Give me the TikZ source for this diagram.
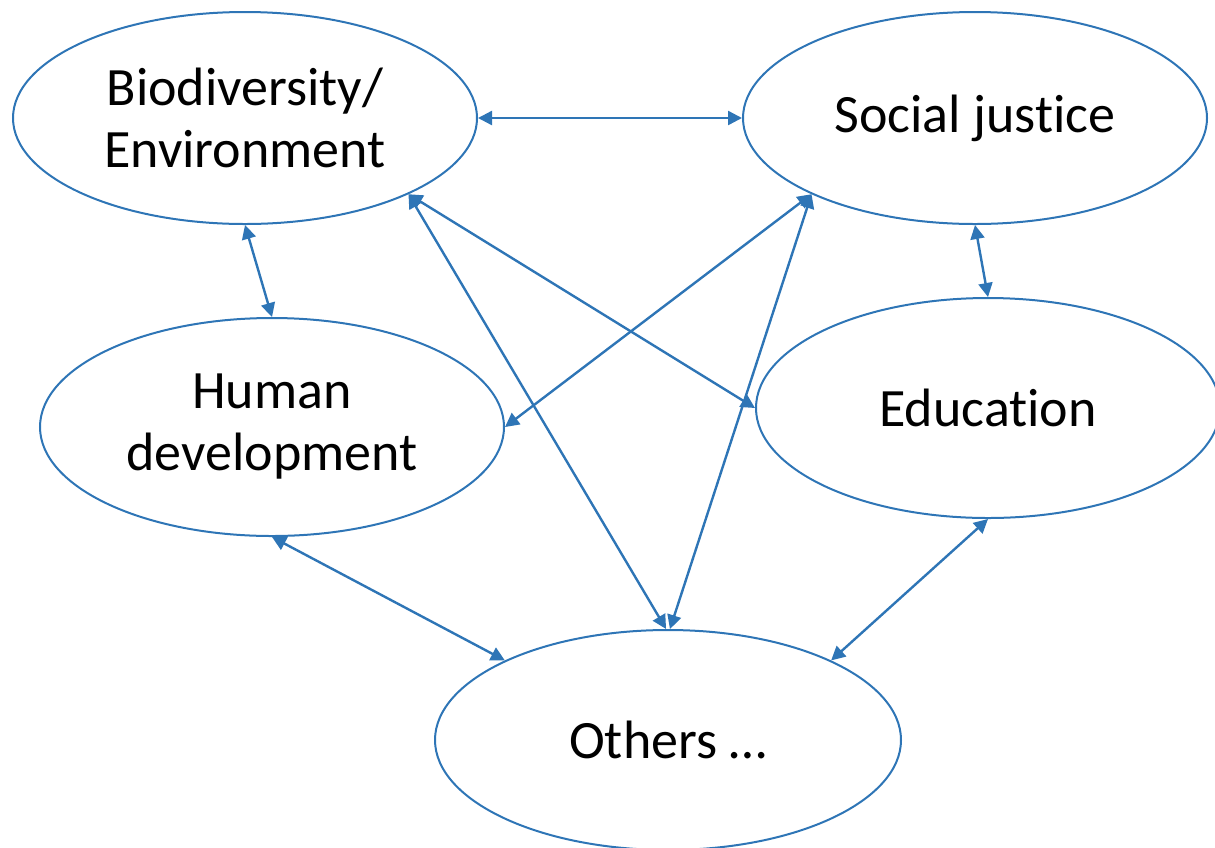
\documentclass[tikz,border=0pt]{standalone}
\usepackage{fontspec}
\setmainfont{Carlito}[Ligatures=NoCommon]
\usetikzlibrary{shapes.geometric,arrows.meta}
\definecolor{lineblue}{HTML}{2E75B6}
\tikzset{
  topic/.style={draw=lineblue, line width=1pt, ellipse, inner sep=0pt,
    minimum width=232pt, minimum height=106pt, align=center,
    font=\fontsize{27}{31}\selectfont},
  link/.style={lineblue, line width=1.2pt,
    {Triangle[length=7pt,width=7pt]}-{Triangle[length=7pt,width=7pt]}}
}
\begin{document}
\begin{tikzpicture}[x=0.5pt,y=-0.5pt]
  \useasboundingbox (0,0) rectangle (1215,847);
  \node[topic] (bio) at (245,118) {Biodiversity/\\Environment};
  \node[topic] (soc) at (975,118) {Social justice};
  \node[topic, minimum height=109pt] (hum) at (272,427) {Human\\development};
  \node[topic, minimum height=110pt] (edu) at (988,408) {Education};
  \node[topic, minimum width=233pt, minimum height=110pt] (oth) at (668,740) {Others \dots};
  % links
  \draw[link] (bio.east) -- (soc.west);
  \draw[link] (bio.south) -- (hum.north);
  \draw[link] (soc.south) -- (edu.north);
  \draw[link] (bio.-25) -- (edu.180);
  \draw[link] (bio.-25) -- (oth.91);
  \draw[link] (soc.-155) -- (hum.east);
  \draw[link] (soc.-155) -- (oth.89);
  \draw[link] (hum.south) -- (oth.154);
  \draw[link] (edu.south) -- (oth.26);
\end{tikzpicture}
\end{document}
